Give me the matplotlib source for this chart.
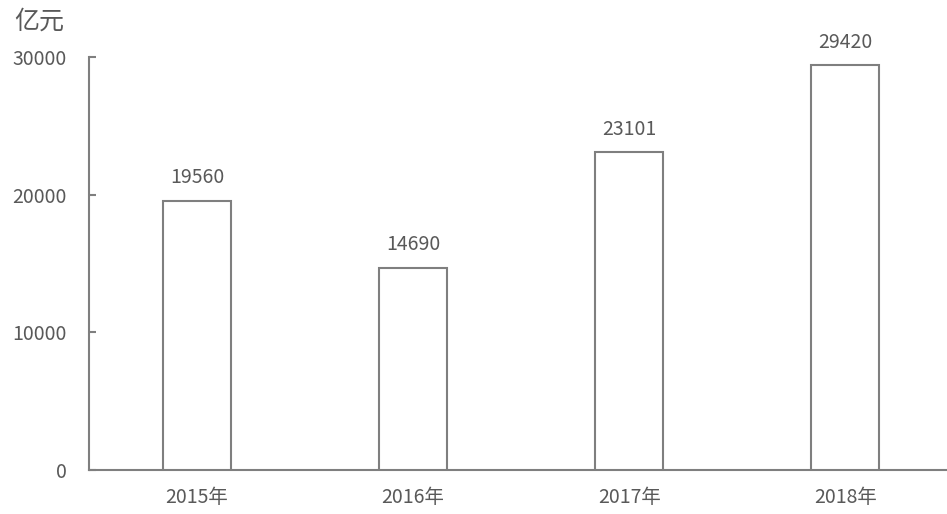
import matplotlib
matplotlib.use('Agg')
import matplotlib.pyplot as plt

plt.rcParams['font.family'] = ['Noto Sans CJK SC', 'DejaVu Sans']

# 数据
years = ['2015年', '2016年', '2017年', '2018年']
values = [19560, 14690, 23101, 29420]
yticks = [0, 10000, 20000, 30000]

text_color = '#595959'
line_color = '#7f7f7f'

fig = plt.figure(figsize=(9.47, 5.14), dpi=100)
ax = fig.add_axes([89 / 947, 1 - 470 / 514, (947 - 89) / 947, (470 - 57) / 514])

x = range(len(years))
ax.bar(x, values, width=0.315, color='white', edgecolor=line_color, linewidth=1.5, zorder=3)

for xi, v in zip(x, values):
    ax.text(xi, v + 900, str(v), ha='center', va='bottom', fontsize=14, color=text_color)

ax.set_xlim(-0.5, 3.47)
ax.set_ylim(0, 30000)
ax.set_xticks(list(x))
ax.set_xticklabels(years)
ax.set_yticks(yticks)
ax.set_yticklabels([str(t) for t in yticks])

for side in ['top', 'right']:
    ax.spines[side].set_visible(False)
for side in ['left', 'bottom']:
    ax.spines[side].set_color(line_color)
    ax.spines[side].set_linewidth(1.5)

ax.tick_params(axis='y', direction='in', length=5, width=1.5, color=line_color,
               labelsize=14, labelcolor=text_color, pad=16)
ax.tick_params(axis='x', length=0, labelsize=14, labelcolor=text_color, pad=12)

# 单位
fig.text(14 / 947, 1 - 22 / 514, '亿元', ha='left', va='center', fontsize=18, color=text_color)

fig.savefig('out.png', dpi=100)
plt.close(fig)
